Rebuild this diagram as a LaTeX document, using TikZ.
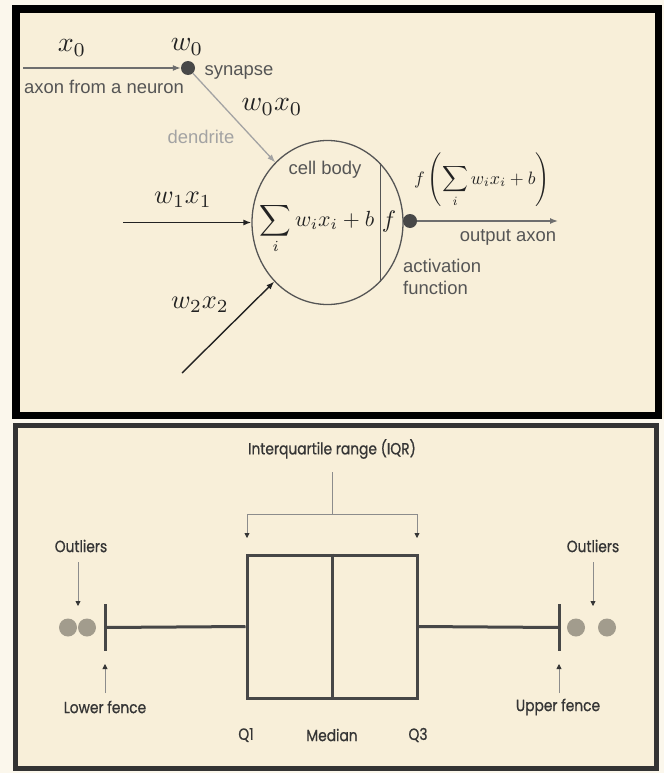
\documentclass[tikz,border=0pt]{standalone}
\usepackage{fontspec}
\usetikzlibrary{arrows.meta,shapes.geometric}
\newfontfamily\topsans{Liberation Sans}
\newfontfamily\botsans[FakeStretch=0.85,FakeBold=0.8]{Poppins}
\definecolor{outerbg}{HTML}{FBF7EC}
\definecolor{panelbg}{HTML}{F8EFD9}
\definecolor{mathc}{HTML}{222222}
\definecolor{lblgray}{HTML}{555555}
\definecolor{dendc}{HTML}{A3A3A3}
\definecolor{dotc}{HTML}{484848}
\definecolor{botc}{HTML}{353535}
\definecolor{boxc}{HTML}{474747}
\definecolor{odotc}{HTML}{A29C8D}
\definecolor{thinc}{HTML}{8C8C8C}
\definecolor{frametwo}{HTML}{333333}
\begin{document}
\begin{tikzpicture}[x=1bp,y=-1bp,
  mathlbl/.style={text=mathc, inner sep=0pt, font=\fontsize{10}{12}\selectfont},
  toplbl/.style={font={\topsans\fontsize{18.5}{22}\selectfont}, text=lblgray, inner sep=0pt},
  botlbl/.style={font={\botsans\fontsize{16.3}{19}\selectfont}, text=botc, inner sep=0pt},
  dot/.style={circle, fill=dotc, minimum size=14bp, inner sep=0pt},
  odot/.style={circle, fill=odotc, minimum size=18bp, inner sep=0pt},
  inarrow/.style={draw=mathc, line width=1.4bp, -{Latex[length=8bp,width=6bp]}},
  axonline/.style={draw=lblgray!85, line width=1.4bp, -{Latex[length=8bp,width=6bp]}},
  dendline/.style={draw=dendc, line width=1.3bp, -{Latex[length=8bp,width=6bp]}},
  cellbody/.style={ellipse, draw=lblgray, line width=1.3bp, minimum width=151bp, minimum height=164bp, inner sep=0pt},
  iqrbox/.style={rectangle, draw=boxc, line width=3bp, minimum width=170bp, minimum height=143bp, inner sep=0pt},
  boxline/.style={draw=boxc, line width=3bp},
  fence/.style={rectangle, fill=boxc, minimum width=3bp, minimum height=47bp, inner sep=0pt},
  thinline/.style={draw=thinc, line width=0.8bp},
  thinarrow/.style={draw=thinc, line width=0.8bp, -{Triangle[length=5bp,width=5bp,color=botc]}}
]
\useasboundingbox (0,0) rectangle (664,773);
\fill[outerbg] (0,0) rectangle (664,773);
% top panel
\fill[panelbg] (16,9) rectangle (658.5,415.5);
\draw[line width=7.5bp] (16,9) rectangle (658.5,415.5);
% bottom panel
\fill[panelbg] (15.5,425.5) rectangle (656.5,768.5);
\draw[draw=frametwo, line width=5bp] (15.5,425.5) rectangle (656.5,768.5);

% ---------- neuron ----------
\node[dot] (syn) at (188,68) {};
\coordinate (x0start) at (23,68);
\node[cellbody] (cell) at (327.5,222.5) {};
\node[dot] (out) at (410,221) {};
\coordinate (outend) at (558,221);
\coordinate (w1start) at (123,222.5);
\coordinate (w2start) at (182,373);

\draw[axonline] (x0start) -- (syn.west);
\draw[dendline] (syn) -- (cell.131);
\draw[inarrow] (w1start) -- (cell.west);
\draw[inarrow] (w2start) -- (cell.228);
\draw[draw=lblgray, line width=1.4bp] (cell.48) -- (cell.-48);
\draw[axonline] (out) -- (outend);

\node[mathlbl, scale=2.8] (x0) at (72,48) {$x_0$};
\node[mathlbl, scale=2.8] (w0) at (187,47) {$w_0$};
\node[mathlbl, scale=2.8] (w0x0) at (272,107) {$w_0x_0$};
\node[mathlbl, scale=2.65] (w1x1) at (183,200) {$w_1x_1$};
\node[mathlbl, scale=2.65] (w2x2) at (200,305) {$w_2x_2$};
\node[mathlbl, scale=2.2, anchor=base] (sum) at (317,226) {$\displaystyle\sum_i w_ix_i+b$};
\node[mathlbl, scale=2.4, anchor=base] (fl) at (389,227) {$f$};
\node[mathlbl, scale=1.8, anchor=base] (fout) at (482,184) {$\displaystyle f\left(\sum_i w_ix_i+b\right)$};

\node[toplbl] (synl) at (239,72) {synapse};
\node[toplbl] (axl) at (104,87) {axon from a neuron};
\node[toplbl, text=dendc] (dendl) at (201,137) {dendrite};
\node[toplbl] (cbl) at (325,170) {cell body};
\node[toplbl] (oal) at (508,237) {output axon};
\node[toplbl, anchor=west, align=left, font={\topsans\fontsize{18.5}{22.5}\selectfont}] (afl) at (403,277) {activation\\function};

% ---------- box plot ----------
\node[iqrbox] (box) at (332,626.5) {};
\draw[boxline] (box.north) -- (box.south);
\node[fence] (lf) at (105,627.5) {};
\node[fence] (uf) at (559,627.5) {};
\draw[boxline] (box.west) -- (lf.center);
\draw[boxline] (box.east) -- (uf.center);
\node[odot] (o1) at (68,627.5) {};
\node[odot] (o2) at (87,627.5) {};
\node[odot] (o3) at (576,627.5) {};
\node[odot] (o4) at (607,627.5) {};

\node[botlbl] (iqr) at (332,449) {Interquartile range (IQR)};
\coordinate (b0) at (332,472);
\coordinate (bj) at (332,514);
\coordinate (q1a) at (247,538);
\coordinate (q3a) at (417,538);
\draw[thinline] (b0) -- (bj);
\draw[thinarrow] (bj) -| (q1a);
\draw[thinarrow] (bj) -| (q3a);

\node[botlbl] (oll) at (81,546) {Outliers};
\node[botlbl] (orl) at (593,546) {Outliers};
\coordinate (ols) at (78,562);
\coordinate (olt) at (78,606);
\coordinate (ors) at (593,562);
\coordinate (ort) at (593,606);
\draw[thinarrow] (ols) -- (olt);
\draw[thinarrow] (ors) -- (ort);

\node[botlbl] (lfl) at (105,707) {Lower fence};
\node[botlbl] (ufl) at (558,707) {Upper fence};
\coordinate (lfs) at (105,693);
\coordinate (lft) at (105,664);
\coordinate (ufs) at (559,693);
\coordinate (uft) at (559,664);
\draw[thinarrow] (lfs) -- (lft);
\draw[thinarrow] (ufs) -- (uft);

\node[botlbl] (q1) at (246,735) {Q1};
\node[botlbl] (med) at (332,735) {Median};
\node[botlbl] (q3) at (418,735) {Q3};
\end{tikzpicture}
\end{document}
